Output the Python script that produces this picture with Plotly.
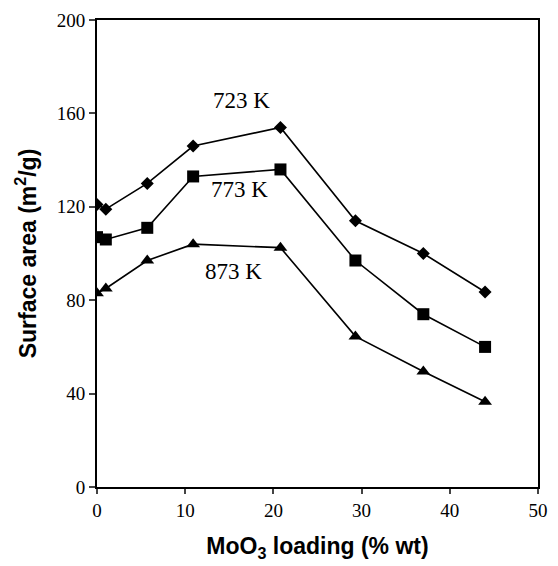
import plotly.graph_objects as go

# MoO3 loading (% wt)
loading = [0, 1, 5.7, 10.9, 20.8, 29.3, 37.0, 44.0]

# Surface area (m2/g) after calcination at each temperature
area_723 = [121, 119, 130, 146, 154, 114, 100, 83.5]
area_773 = [107, 106, 111, 133, 136, 97, 74, 60]
area_873 = [83, 85, 97, 104, 102.5, 64.5, 49.5, 36.5]

series_names = ["723 K", "773 K", "873 K"]
series_values = [area_723, area_773, area_873]
series_symbols = ["diamond", "square", "triangle-up"]
series_sizes = [10, 12, 12]

# Label anchor positions in data units
label_x = [16.4, 16.1, 15.5]
label_y = [165.5, 127.2, 92.2]

x_ticks = [0, 10, 20, 30, 40, 50]
y_ticks = [0, 40, 80, 120, 160, 200]

fig = go.Figure()
for name, vals, sym, sz in zip(series_names, series_values, series_symbols, series_sizes):
    fig.add_trace(go.Scatter(
        x=loading, y=vals, name=name, mode="lines+markers",
        line=dict(color="black", width=1.6),
        marker=dict(symbol=sym, size=sz, color="black"),
        showlegend=False,
    ))

for name, lx, ly in zip(series_names, label_x, label_y):
    fig.add_annotation(
        x=lx, y=ly, text=name, showarrow=False,
        font=dict(family="Liberation Serif, Times New Roman, serif", size=23, color="black"),
    )

tick_font = dict(family="Liberation Serif, Times New Roman, serif", size=19, color="black")
title_font = dict(family="Liberation Sans, Arial, sans-serif", size=23, color="black")

fig.update_xaxes(
    range=[0, 50], tickvals=x_ticks, ticks="outside", ticklen=5, tickwidth=2,
    showline=True, linewidth=2, linecolor="black", mirror=True,
    showgrid=False, zeroline=False, tickfont=tick_font,
    title=dict(text="<b>MoO<sub>3</sub> loading (% wt)</b>", font=title_font, standoff=18),
)
fig.update_yaxes(
    range=[0, 200], tickvals=y_ticks, ticks="outside", ticklen=6, tickwidth=2,
    showline=True, linewidth=2, linecolor="black", mirror=True,
    showgrid=False, zeroline=False, tickfont=tick_font,
    title=dict(text="<b>Surface area (m<sup>2</sup>/g)</b>", font=title_font, standoff=14),
)

fig.update_layout(
    width=558, height=566,
    margin=dict(l=97, r=10, t=20, b=79),
    paper_bgcolor="white", plot_bgcolor="white",
)

fig.write_html("out.html")
